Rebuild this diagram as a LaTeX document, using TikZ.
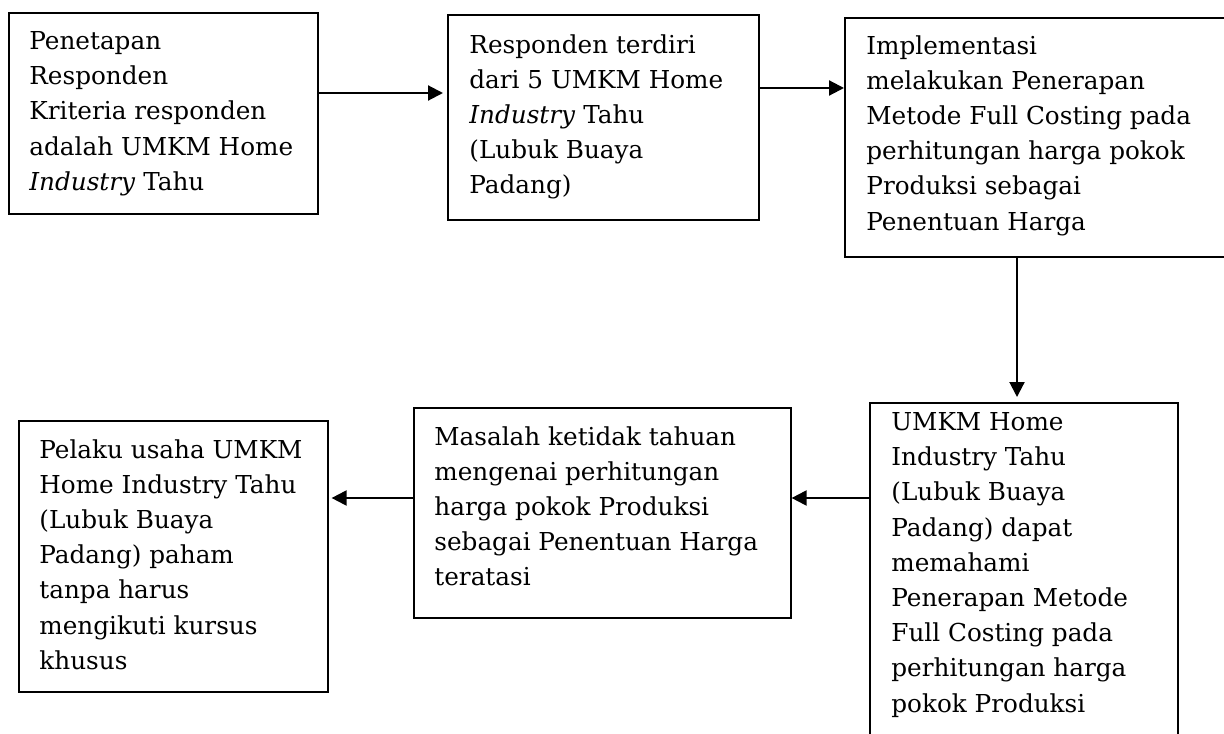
\documentclass[tikz,border=0pt]{standalone}
\usepackage{fontspec}
\setmainfont{DejaVu Serif}
\usetikzlibrary{arrows.meta,calc}
\tikzset{
  box/.style={draw=black, line width=0.8pt, rectangle, inner sep=0pt, anchor=north west},
  txt/.style={anchor=north west, inner sep=0pt, align=left, font=\fontsize{12.35pt}{17.6pt}\selectfont},
  arr/.style={line width=1.05pt, -{Triangle[length=7.5pt,width=7.5pt]}}
}
\begin{document}
\begin{tikzpicture}[x=0.5pt,y=-0.5pt]
\useasboundingbox (0,0) rectangle (1224,733);
\clip (0,0) rectangle (1224,733);
% boxes
\node[box, minimum width=154.5pt, minimum height=100.5pt] (a) at (8,12) {};
\node[box, minimum width=155.5pt, minimum height=102.5pt] (b) at (447,14) {};
\node[box, minimum width=198pt, minimum height=119.5pt] (c) at (844,17) {};
\node[box, minimum width=154pt, minimum height=179pt] (d) at (869,402) {};
\node[box, minimum width=188.5pt, minimum height=105pt] (e) at (413,407) {};
\node[box, minimum width=154.5pt, minimum height=135.5pt] (f) at (18,420) {};
% texts
\node[txt] (ta) at (29,31) {Penetapan\\Responden\\Kriteria responden\\adalah UMKM Home\\\textit{Industry} Tahu};
\node[txt] (tb) at (469,34) {Responden terdiri\\dari 5 UMKM Home\\\textit{Industry} Tahu\\(Lubuk Buaya\\Padang)};
\node[txt] (tc) at (866,35) {Implementasi\\melakukan Penerapan\\Metode Full Costing pada\\perhitungan harga pokok\\Produksi sebagai\\Penentuan Harga};
\node[txt] (td) at (891,412) {UMKM Home\\Industry Tahu\\(Lubuk Buaya\\Padang) dapat\\memahami\\Penerapan Metode\\Full Costing pada\\perhitungan harga\\pokok Produksi};
\node[txt] (te) at (434,426) {Masalah ketidak tahuan\\mengenai perhitungan\\harga pokok Produksi\\sebagai Penentuan Harga\\teratasi};
\node[txt] (tf) at (39,439) {Pelaku usaha UMKM\\Home Industry Tahu\\(Lubuk Buaya\\Padang) paham\\tanpa harus\\mengikuti kursus\\khusus};
% connectors
\coordinate (ab) at ($(a.north east)+(0,81)$);
\coordinate (bc) at ($(b.north east)+(0,74)$);
\coordinate (cd) at ($(c.south west)+(173,0)$);
\coordinate (de) at ($(d.north west)+(0,96)$);
\coordinate (ef) at ($(e.north west)+(0,91)$);
\draw[arr, shorten >=2pt] (ab) -- (b.west |- ab);
\draw[arr] (bc) -- (c.west |- bc);
\draw[arr, shorten >=2.5pt] (cd) -- (cd |- d.north);
\draw[arr] (de) -- (e.east |- de);
\draw[arr, shorten >=1.5pt] (ef) -- (f.east |- ef);
\end{tikzpicture}
\end{document}
